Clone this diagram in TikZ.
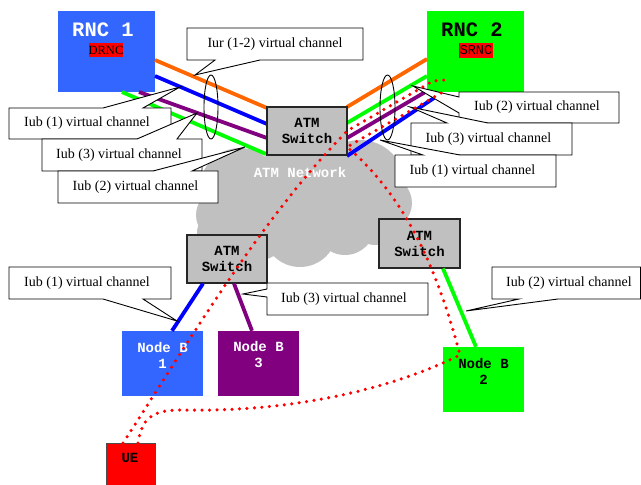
\documentclass[tikz,border=0pt]{standalone}
\usepackage{fontspec}
\setmainfont{Liberation Serif}
\setmonofont{Liberation Mono}
\definecolor{rncblue}{HTML}{3366FF}
\definecolor{lblue}{HTML}{0000FF}
\definecolor{lgreen}{HTML}{00FF00}
\definecolor{lpurple}{HTML}{800080}
\definecolor{lorange}{HTML}{FF6600}
\definecolor{swgray}{HTML}{C0C0C0}
\tikzset{
  swbox/.style={fill=swgray, draw=black!85, line width=1.2pt, minimum width=80pt, minimum height=48pt, inner sep=0pt, font=\ttfamily\bfseries\fontsize{14}{16}\selectfont, align=center},
  nbbox/.style={inner sep=0pt, minimum width=81pt, minimum height=65pt},
  nbtext/.style={font=\ttfamily\bfseries\fontsize{14}{16}\selectfont, align=center, inner sep=0pt},
  rncbox/.style={inner sep=0pt, minimum width=97pt, minimum height=81pt},
  rnctext/.style={font=\ttfamily\bfseries\fontsize{20.5}{22}\selectfont, inner sep=0pt},
  cotext/.style={font=\fontsize{14}{16}\selectfont, inner sep=0pt},
  coshape/.style={fill=white, draw=black, line width=0.9pt, line join=miter},
  vline/.style={line width=3.8pt},
  redpath/.style={draw=red, line width=3.5pt, line cap=round, dash pattern=on 0pt off 7.5pt},
  bundle/.style={draw=black, line width=0.9pt}
}
\begin{document}
\begin{tikzpicture}[x=1pt,y=-1pt]
\useasboundingbox (0,0) rectangle (641,485);
\fill[white] (0,0) rectangle (641,485);

% cloud
\fill[swgray] (240,188) circle (40pt) (300,185) circle (45pt) (360,185) circle (45pt)
  (385,203) circle (27pt) (222,215) circle (26pt) (212,232) circle (15pt) (260,235) circle (25pt)
  (300,230) circle (37pt) (345,225) circle (30pt) (375,220) circle (25pt);
\node[font=\ttfamily\bfseries\fontsize{14}{16}\selectfont, text=white, inner sep=0pt] (net) at (300,172) {ATM Network};

% RNCs
\node[rncbox, fill=rncblue] (rnc1) at (106.5,51.5) {};
\node[rnctext, text=white] (rnc1t) at (103,30) {RNC 1};
\node[fill=red, minimum width=34pt, minimum height=14pt, inner sep=0pt, font=\fontsize{12.5}{12}\selectfont] (drnc) at (106,50) {DRNC};
\node[rncbox, fill=lgreen] (rnc2) at (475.5,51.5) {};
\node[rnctext, text=black] (rnc2t) at (472,30) {RNC 2};
\node[fill=red, minimum width=34pt, minimum height=15pt, inner sep=0pt, font=\ttfamily\fontsize{13.5}{14}\selectfont] (srnc) at (476,50.5) {SRNC};

% endpoints
\coordinate (lo1) at (155,60);  \coordinate (lo2) at (267,108);
\coordinate (lb1) at (155,76);  \coordinate (lb2) at (267,124);
\coordinate (lp1) at (139,92);  \coordinate (lp2) at (267,138);
\coordinate (lg1) at (122,92);  \coordinate (lg2) at (266,154);
\coordinate (ro1) at (347,107); \coordinate (ro2) at (427,59);
\coordinate (rg1) at (347,123); \coordinate (rg2) at (427,76);
\coordinate (rp1) at (347,138); \coordinate (rp2) at (427,91);
\coordinate (rb1) at (347,156); \coordinate (rb2) at (437,96);

% bundle lines
\draw[vline, lorange] (lo1) -- (lo2);
\draw[vline, lblue] (lb1) -- (lb2);
\draw[vline, lpurple] (lp1) -- (lp2);
\draw[vline, lgreen] (lg1) -- (lg2);
\draw[vline, lorange] (ro1) -- (ro2);
\draw[vline, lgreen] (rg1) -- (rg2);
\draw[vline, lpurple] (rp1) -- (rp2);
\draw[vline, lblue] (rb1) -- (rb2);

% node Bs and lower switches
\node[nbbox, fill=rncblue] (nb1) at (162.5,363.5) {};
\node[nbbox, fill=lpurple] (nb3) at (258.5,363.5) {};
\node[nbbox, fill=lgreen] (nb2) at (483.5,379.5) {};
\node[swbox] (sw0) at (307,131) {ATM\\Switch};
\node[swbox] (sw1) at (227,259) {ATM\\Switch};
\node[swbox, minimum width=81pt, minimum height=49pt] (sw2) at (419.5,243.5) {ATM\\Switch};
\draw[vline, lblue] ([xshift=-24pt]sw1.south) -- ([xshift=9.5pt]nb1.north);
\draw[vline, lpurple] ([xshift=7pt]sw1.south) -- ([xshift=-6.5pt]nb3.north);
\draw[vline, lgreen] ([xshift=23.5pt]sw2.south) -- ([xshift=-7.5pt]nb2.north);
\node[nbtext, text=white] (nb1t) at (162.5,355) {Node B\\1};
\node[nbtext, text=white] (nb3t) at (258.5,355) {Node B\\3};
\node[nbtext, text=black] (nb2t) at (483.5,371) {Node B\\2};
\node[fill=red, draw=black!70, line width=0.8pt, minimum width=49pt, minimum height=44pt, inner sep=0pt] (ue) at (130.5,465) {};
\node[nbtext] (uet) at (130,458) {UE};

% ellipses
\draw[bundle] (211,107) ellipse [x radius=7pt, y radius=32pt];
\draw[bundle] (387.5,107.5) ellipse [x radius=7.5pt, y radius=32.5pt];

% callouts
\draw[coshape] (187,28) -- (363,28) -- (363,60) -- (260,60) -- (195,75) -- (215,60) -- (187,60) -- cycle;
\node[cotext] (c1) at (275,44) {Iur (1-2) virtual channel};

\draw[coshape] (9,108) -- (103,108) -- (180,87) -- (143,108) -- (171,108) -- (171,139) -- (9,139) -- cycle;
\node[cotext] (c2) at (87,123.5) {Iub (1) virtual channel};
\draw[coshape] (42,139) -- (137,139) -- (197,113) -- (177,139) -- (202,139) -- (202,171) -- (42,171) -- cycle;
\node[cotext] (c3) at (119,155.5) {Iub (3) virtual channel};
\draw[coshape] (58,171) -- (153,171) -- (245,147) -- (192,171) -- (218,171) -- (218,203) -- (58,203) -- cycle;
\node[cotext] (c4) at (135.5,187.5) {Iub (2) virtual channel};

\draw[coshape] (459,92) -- (619,92) -- (619,123) -- (459,123) -- (459,113) -- (413,86) -- (459,97) -- cycle;
\node[cotext] (c5) at (537,107.5) {Iub (2) virtual channel};
\draw[coshape] (411,123) -- (447,123) -- (410,107) -- (488,123) -- (572,123) -- (572,155) -- (411,155) -- cycle;
\node[cotext] (c6) at (488.5,139.5) {Iub (3) virtual channel};
\draw[coshape] (395,155) -- (423,155) -- (380,140) -- (460,155) -- (556,155) -- (556,187) -- (395,187) -- cycle;
\node[cotext] (c7) at (472.5,171) {Iub (1) virtual channel};

\draw[coshape] (9,267) -- (171,267) -- (171,299) -- (143,299) -- (177,321) -- (103,299) -- (9,299) -- cycle;
\node[cotext] (c8) at (87,283) {Iub (1) virtual channel};
\draw[coshape] (267,283) -- (428,283) -- (428,315) -- (267,315) -- (267,297) -- (243,294) -- (267,289) -- cycle;
\node[cotext] (c9) at (344,299.5) {Iub (3) virtual channel};
\draw[coshape] (492,267) -- (640.5,267) -- (640.5,299) -- (558,299) -- (466,311) -- (519,299) -- (492,299) -- cycle;
\node[cotext] (c10) at (569,283) {Iub (2) virtual channel};

% red dotted paths
\coordinate (ueA) at (123,443);
\coordinate (ueB) at (138,443);
\coordinate (swA) at (347,131);
\coordinate (swB) at (347,147);
\coordinate (rA1) at (433,81);
\coordinate (rA2) at (446,80);
\coordinate (rB) at (443,92);
\coordinate (nbB) at (460,355);
\draw[redpath] (ueA) .. controls (190,340) and (260,220) .. (swA) -- (rA1) -- (rA2);
\draw[redpath] (ueB) .. controls (142,420) and (150,410) .. (180,410)
   .. controls (300,413) and (400,385) .. (nbB)
   .. controls (440,280) and (410,200) .. (swB) -- (rB);
\end{tikzpicture}
\end{document}
